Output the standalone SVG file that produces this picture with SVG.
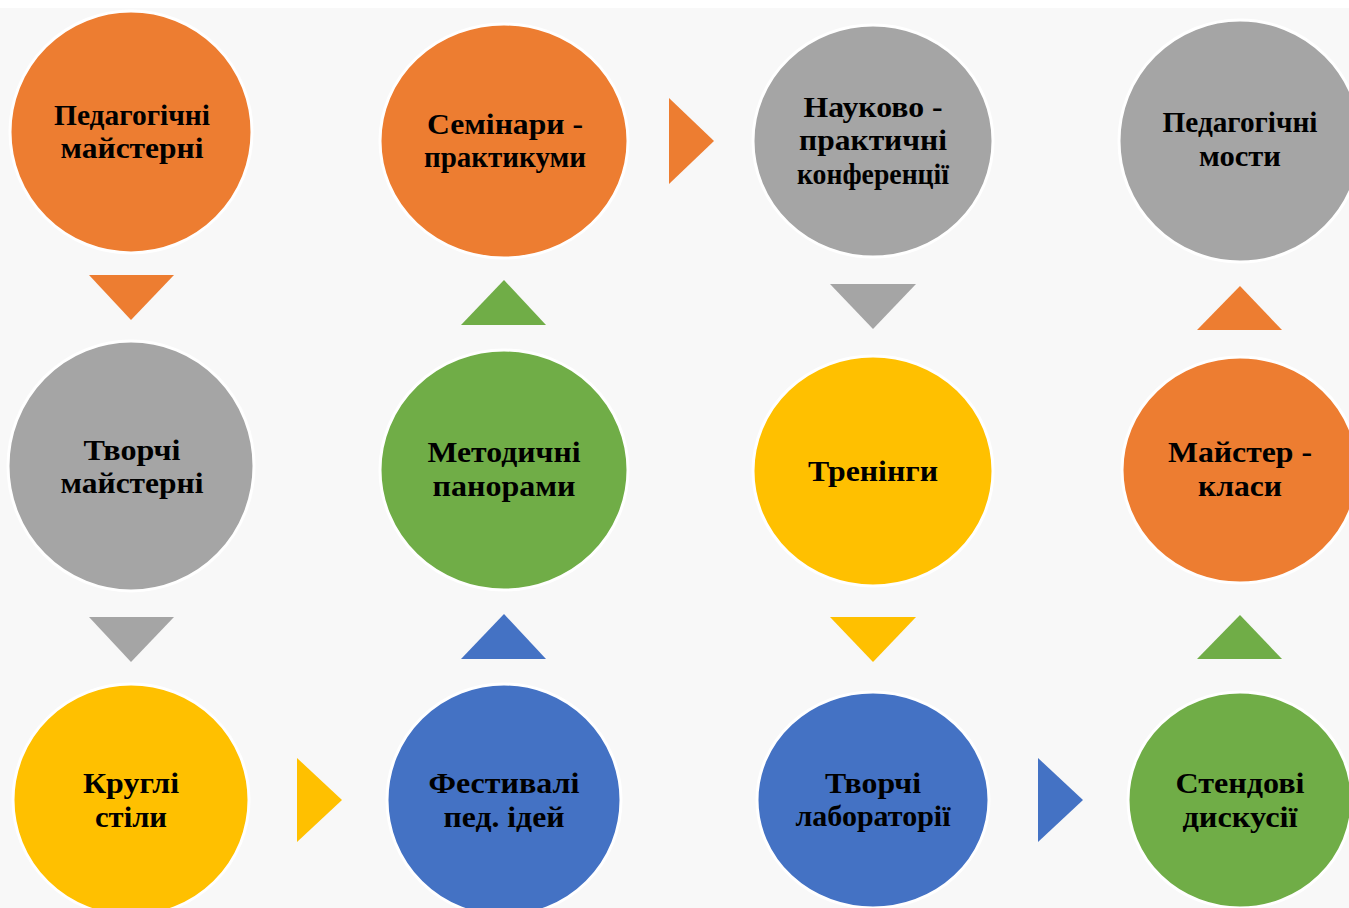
<svg xmlns="http://www.w3.org/2000/svg" width="1349" height="908" viewBox="0 0 1349 908">
<style>
.n{stroke:#fff;stroke-width:3}
.o{fill:#ED7D31}.g{fill:#A5A5A5}.y{fill:#FFC000}.b{fill:#4472C4}.e{fill:#70AD47}
text{font-family:"Liberation Serif","Times New Roman",serif;font-weight:bold;font-size:30px;fill:#000;text-anchor:middle}
</style>
<rect x="0" y="0" width="1349" height="908" fill="#ffffff"/>
<rect x="0" y="8" width="1349" height="900" fill="#f8f8f8"/>
<g id="connectors">
<polygon class="o" points="89,275 174,275 131,320"/>
<polygon class="g" points="89,617 174,617 131,662"/>
<polygon class="y" points="297,758 342,800 297,842"/>
<polygon class="b" points="461,659 546,659 504,614"/>
<polygon class="e" points="461,325 546,325 504,280"/>
<polygon class="o" points="669,98 714,141 669,184"/>
<polygon class="g" points="830,284 916,284 873,329"/>
<polygon class="y" points="830,617 916,617 873,662"/>
<polygon class="b" points="1038,758 1083,800 1038,842"/>
<polygon class="e" points="1197,659 1282,659 1240,615"/>
<polygon class="o" points="1197,330 1282,330 1240,286"/>
</g>
<g id="n1"><ellipse class="n o" cx="131" cy="132" rx="121" ry="121"/><text x="132" y="125" textLength="156" lengthAdjust="spacingAndGlyphs">Педагогічні</text><text x="132" y="158" textLength="143" lengthAdjust="spacingAndGlyphs">майстерні</text></g>
<g id="n2"><ellipse class="n o" cx="504" cy="141" rx="124" ry="117"/><text x="505" y="134" textLength="156" lengthAdjust="spacingAndGlyphs">Семінари -</text><text x="505" y="167" textLength="162" lengthAdjust="spacingAndGlyphs">практикуми</text></g>
<g id="n3"><ellipse class="n g" cx="873" cy="141" rx="120" ry="116"/><text x="873" y="117" textLength="139" lengthAdjust="spacingAndGlyphs">Науково -</text><text x="873" y="150" textLength="148" lengthAdjust="spacingAndGlyphs">практичні</text><text x="873" y="184" textLength="152" lengthAdjust="spacingAndGlyphs">конференції</text></g>
<g id="n4"><ellipse class="n g" cx="1240" cy="141" rx="121" ry="121"/><text x="1240" y="132" textLength="155" lengthAdjust="spacingAndGlyphs">Педагогічні</text><text x="1240" y="166" textLength="82" lengthAdjust="spacingAndGlyphs">мости</text></g>
<g id="n5"><ellipse class="n g" cx="131" cy="466" rx="123" ry="125"/><text x="132" y="460" textLength="97" lengthAdjust="spacingAndGlyphs">Творчі</text><text x="132" y="493" textLength="143" lengthAdjust="spacingAndGlyphs">майстерні</text></g>
<g id="n6"><ellipse class="n e" cx="504" cy="470" rx="124" ry="120"/><text x="504" y="462" textLength="153" lengthAdjust="spacingAndGlyphs">Методичні</text><text x="504" y="496" textLength="143" lengthAdjust="spacingAndGlyphs">панорами</text></g>
<g id="n7"><ellipse class="n y" cx="873" cy="471" rx="120" ry="115"/><text x="873" y="481" textLength="130" lengthAdjust="spacingAndGlyphs">Тренінги</text></g>
<g id="n8"><ellipse class="n o" cx="1240" cy="470" rx="118" ry="113"/><text x="1240" y="462" textLength="144" lengthAdjust="spacingAndGlyphs">Майстер -</text><text x="1240" y="496" textLength="84" lengthAdjust="spacingAndGlyphs">класи</text></g>
<g id="n9"><ellipse class="n y" cx="131" cy="800" rx="118" ry="116"/><text x="131" y="793" textLength="96" lengthAdjust="spacingAndGlyphs">Круглі</text><text x="131" y="827" textLength="72" lengthAdjust="spacingAndGlyphs">стіли</text></g>
<g id="n10"><ellipse class="n b" cx="504" cy="800" rx="117" ry="116"/><text x="504" y="793" textLength="151" lengthAdjust="spacingAndGlyphs">Фестивалі</text><text x="504" y="827" textLength="121" lengthAdjust="spacingAndGlyphs">пед. ідей</text></g>
<g id="n11"><ellipse class="n b" cx="873" cy="800" rx="116" ry="108"/><text x="873" y="793" textLength="96" lengthAdjust="spacingAndGlyphs">Творчі</text><text x="873" y="826" textLength="155" lengthAdjust="spacingAndGlyphs">лабораторії</text></g>
<g id="n12"><ellipse class="n e" cx="1240" cy="800" rx="112" ry="108"/><text x="1240" y="793" textLength="129" lengthAdjust="spacingAndGlyphs">Стендові</text><text x="1240" y="827" textLength="115" lengthAdjust="spacingAndGlyphs">дискусії</text></g>
</svg>
